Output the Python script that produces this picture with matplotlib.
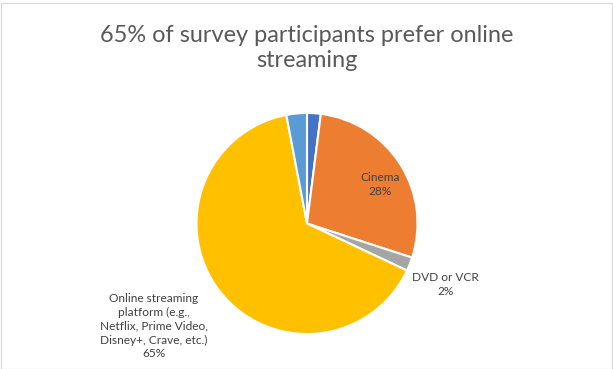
import numpy as np
import matplotlib
matplotlib.use("Agg")
import matplotlib.pyplot as plt
from matplotlib.patches import Rectangle

# Survey responses: preferred way to watch movies (share of participants, %)
categories = [
    "Other",
    "Cinema",
    "DVD or VCR",
    "Online streaming\nplatform (e.g.,\nNetflix, Prime Video,\nDisney+, Crave, etc.)",
    "Television",
]
shares = [2, 28, 2, 65, 3]
colors = ["#4472C4", "#ED7D31", "#A5A5A5", "#FFC000", "#5B9BD5"]
show_label = [False, True, True, True, False]

# label placement: distance from centre (in radii) and angular nudge (deg)
label_radius = [0.0, 0.75, 1.37, 1.67, 0.0]
label_nudge = [0.0, -4.0, -2.0, -4.0, 0.0]

title = "65% of survey participants prefer online\nstreaming"

W, H, DPI = 613, 369, 100
fig = plt.figure(figsize=(W / DPI, H / DPI), dpi=DPI)
fig.patch.set_facecolor("white")

# chart border
fig.add_artist(Rectangle((0.5 / W, 0.5 / H), 1 - 1.5 / W, 1 - 3.5 / H,
                         transform=fig.transFigure, fill=False,
                         edgecolor="#D9D9D9", linewidth=0.9))

cx, cy, r = 307.0, 223.5, 110.5
ax = fig.add_axes([(cx - r) / W, (H - cy - r) / H, 2 * r / W, 2 * r / H])
wedges, _ = ax.pie(shares, colors=colors, startangle=90, counterclock=False,
                   radius=1.0,
                   wedgeprops=dict(edgecolor="white", linewidth=1.5))
ax.set_xlim(-1, 1)
ax.set_ylim(-1, 1)
ax.set_aspect("equal")
ax.axis("off")

font = "Lato"
for w, name, val, show, lr, nd in zip(wedges, categories, shares, show_label,
                                      label_radius, label_nudge):
    if not show:
        continue
    mid = np.deg2rad((w.theta1 + w.theta2) / 2 + nd)
    x, y = lr * np.cos(mid), lr * np.sin(mid)
    ax.text(x, y, f"{name}\n{val}%", ha="center", va="center",
            fontsize=8.6, color="#404040", family=font, linespacing=1.32,
            clip_on=False)

fig.text(0.5, 1 - 48 / H, title, ha="center", va="center", fontsize=16.9,
         color="#595959", family=font, linespacing=1.25)

fig.savefig("out.png", dpi=DPI)
